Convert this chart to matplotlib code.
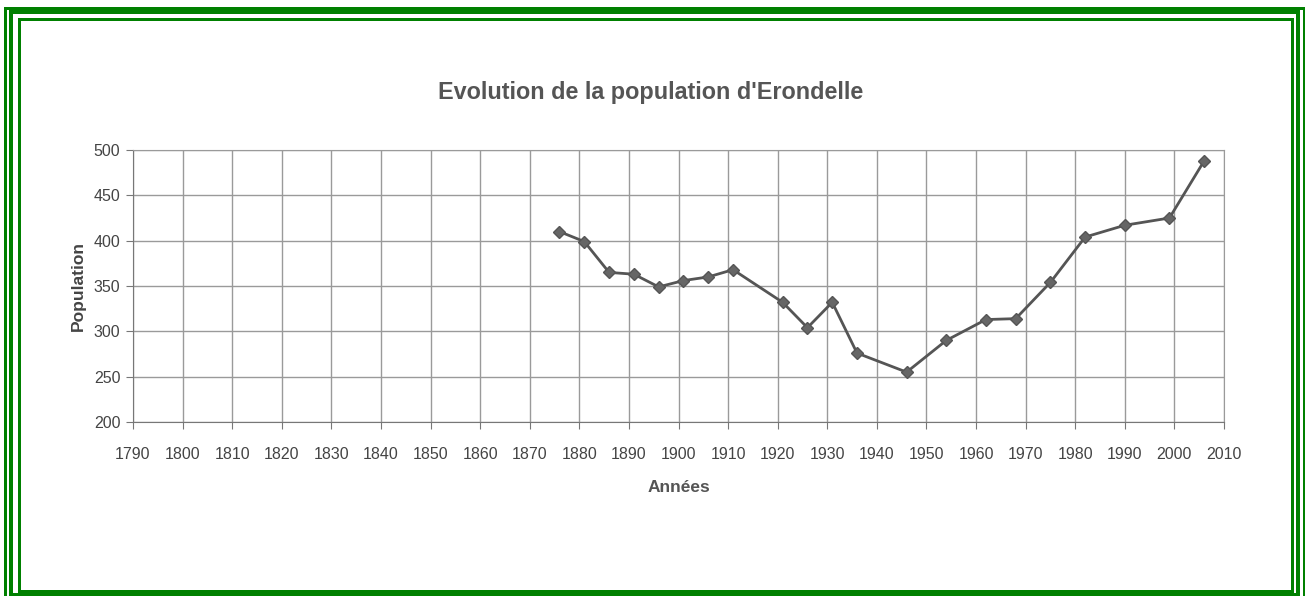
import matplotlib
matplotlib.use("Agg")
import matplotlib.pyplot as plt
from matplotlib.patches import Rectangle

# data
years = [1876, 1881, 1886, 1891, 1896, 1901, 1906, 1911, 1921, 1926, 1931,
         1936, 1946, 1954, 1962, 1968, 1975, 1982, 1990, 1999, 2006]
population = [410, 399, 365, 363, 349, 356, 360, 368, 332, 304, 332,
              276, 255, 290, 313, 314, 354, 404, 417, 425, 488]
x_ticks = list(range(1790, 2011, 10))
y_ticks = list(range(200, 501, 50))

plt.rcParams["font.family"] = ["Liberation Sans", "DejaVu Sans"]

W, H = 1305, 596
fig = plt.figure(figsize=(W / 100, H / 100), dpi=100)
ax = fig.add_axes([133 / W, 1 - 422 / H, (1224 - 133) / W, (422 - 150) / H])

ax.plot(years, population, color="#555555", linewidth=2, marker="D",
        markersize=6.5, markerfacecolor="#666666", markeredgecolor="#555555")

ax.set_xlim(1790, 2010)
ax.set_ylim(200, 500)
ax.set_xticks(x_ticks)
ax.set_yticks(y_ticks)
ax.grid(True, color="#9a9a9a", linewidth=1)
ax.set_axisbelow(True)
for s in ax.spines.values():
    s.set_color("#9a9a9a")
ax.spines["bottom"].set_color("#777777")
ax.spines["left"].set_color("#777777")
ax.tick_params(colors="#777777", length=5, labelsize=11.5, labelcolor="#444444")
ax.tick_params(axis="x", pad=13)
ax.tick_params(axis="y", pad=4)

ax.set_xlabel("Années", fontsize=12.5, fontweight="bold", color="#555555", labelpad=13)
ax.set_ylabel("Population", fontsize=12.5, fontweight="bold", color="#444444", labelpad=6)
fig.text(651 / W, 1 - 92 / H, "Evolution de la population d'Erondelle",
         ha="center", va="center", fontsize=16.8, fontweight="bold", color="#555555")

# green triple frame (pixel coordinates)
def frame(x0, y0, x1, y1, lw):
    fig.patches.append(Rectangle((x0 / W, 1 - y1 / H), (x1 - x0) / W, (y1 - y0) / H,
                                 transform=fig.transFigure, fill=False,
                                 edgecolor="#008000", linewidth=lw * 0.72))

frame(5.5, 7.5, 1303.5, 605, 3)
frame(11, 12, 1297.5, 595, 4)
frame(18.5, 18.5, 1291.5, 590.5, 3)

fig.savefig("out.png", dpi=100)
